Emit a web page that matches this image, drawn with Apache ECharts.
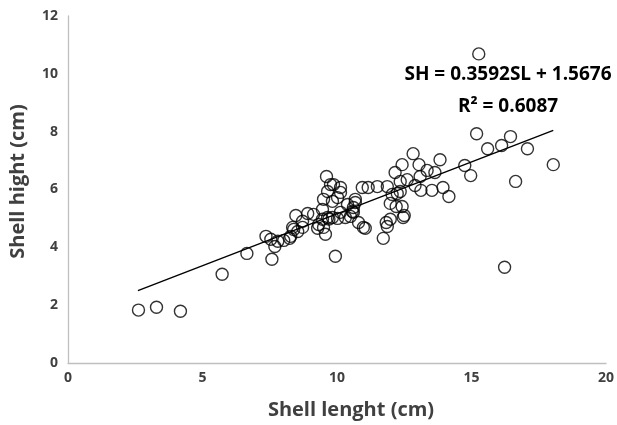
<!DOCTYPE html>
<html><head><meta charset="utf-8">
<script src="https://cdn.jsdelivr.net/npm/echarts@6/dist/echarts.min.js"></script>
<style>html,body{margin:0;padding:0;background:#fff}#c{width:617px;height:425px}</style>
</head><body><div id="c"></div>
<script>
var shellLength = [2.62,3.29,4.18,5.73,6.65,7.36,7.58,7.69,8.02,8.24,8.47,8.39,8.54,8.72,8.91,9.13,9.57,9.94,9.46,9.28,16.23,16.64,14.97,11.72,11.83,11.98,12.46,10.80,11.05,11.98,12.20,13.12,13.53,13.94,14.16,10.94,11.16,11.50,11.87,12.24,10.39,10.13,10.57,10.68,9.83,9.65,9.76,10.13,15.27,15.19,15.60,16.12,16.45,17.08,18.04,14.75,13.83,12.83,13.05,13.35,13.64,12.42,12.16,12.61,12.35,13.09,9.61,9.87,12.90,12.50,12.42,12.35,9.50,10.02,12.05,11.87,10.98,10.61,10.50,10.31,10.02,9.83,9.65,9.46,9.32,9.50,8.72,8.35,8.28,7.80,7.54,10.61,10.68,10.13,9.70];
var shellHeight = [1.83,1.93,1.79,3.07,3.79,4.38,3.59,4.03,4.24,4.31,5.10,4.62,4.55,4.69,5.17,5.14,4.45,3.69,5.31,4.66,3.31,6.28,6.48,4.31,4.86,4.97,5.03,4.86,4.66,5.52,5.41,5.97,5.97,6.07,5.76,6.07,6.07,6.10,6.10,5.86,5.48,5.21,5.24,5.66,5.59,5.93,6.17,5.90,10.69,7.93,7.41,7.52,7.83,7.41,6.86,6.83,7.03,7.24,6.86,6.66,6.59,6.86,6.59,6.34,6.28,6.45,6.45,6.17,6.14,5.10,5.41,5.93,5.66,5.72,5.83,4.72,4.69,5.21,5.07,5.03,5.00,5.03,5.03,4.97,4.79,4.69,4.90,4.69,4.38,4.21,4.28,5.38,5.55,6.07,4.98];
var slope = 0.3592, intercept = 1.5676;
var trendRange = [2.6, 18.04];
var xTicks = [0,5,10,15,20];
var yTicks = [0,2,4,6,8,10,12];

var pts = shellLength.map(function(x,i){return [x, shellHeight[i]];});
var trend = trendRange.map(function(x){return [x, slope*x+intercept];});
var font = '"Open Sans","Noto Sans",sans-serif';
var chart = echarts.init(document.getElementById('c'), null, {renderer:'canvas'});
chart.setOption({
  animation:false,
  grid:{left:66,right:10,top:16,bottom:61},
  xAxis:{type:'value',min:0,max:20,interval:5,
    axisLine:{lineStyle:{color:'#bfbfbf',width:1.3}},axisTick:{show:false},splitLine:{show:false},
    axisLabel:{color:'#404040',fontWeight:'bold',fontSize:14,fontFamily:font,margin:8},
    name:'Shell lenght (cm)',nameLocation:'middle',nameGap:37,
    nameTextStyle:{color:'#404040',fontWeight:'bold',fontSize:20,fontFamily:font,padding:[0,0,0,28]}},
  yAxis:{type:'value',min:0,max:12,interval:2,
    axisLine:{show:true,lineStyle:{color:'#bfbfbf',width:1.3}},axisTick:{show:false},splitLine:{show:false},
    axisLabel:{color:'#404040',fontWeight:'bold',fontSize:14,fontFamily:font,margin:10},
    name:'Shell hight (cm)',nameLocation:'middle',nameGap:40,
    nameTextStyle:{color:'#404040',fontWeight:'bold',fontSize:20,fontFamily:font,padding:[0,0,0,16]}},
  series:[
    {type:'line',data:trend,symbol:'none',lineStyle:{color:'#000',width:1.4},z:1},
    {type:'scatter',data:pts,symbol:'circle',symbolSize:12,
     itemStyle:{color:'rgba(0,0,0,0)',borderColor:'#000',borderWidth:1.4},z:2}
  ],
  graphic:[
    {type:'text',x:508,y:75,style:{text:'SH = 0.3592SL + 1.5676',fontSize:19,fontWeight:'bold',fill:'#000',fontFamily:font,align:'center',verticalAlign:'middle'}},
    {type:'text',x:508,y:107,style:{text:'R² = 0.6087',fontSize:19,fontWeight:'bold',fill:'#000',fontFamily:font,align:'center',verticalAlign:'middle'}}
  ]
});
</script></body></html>
